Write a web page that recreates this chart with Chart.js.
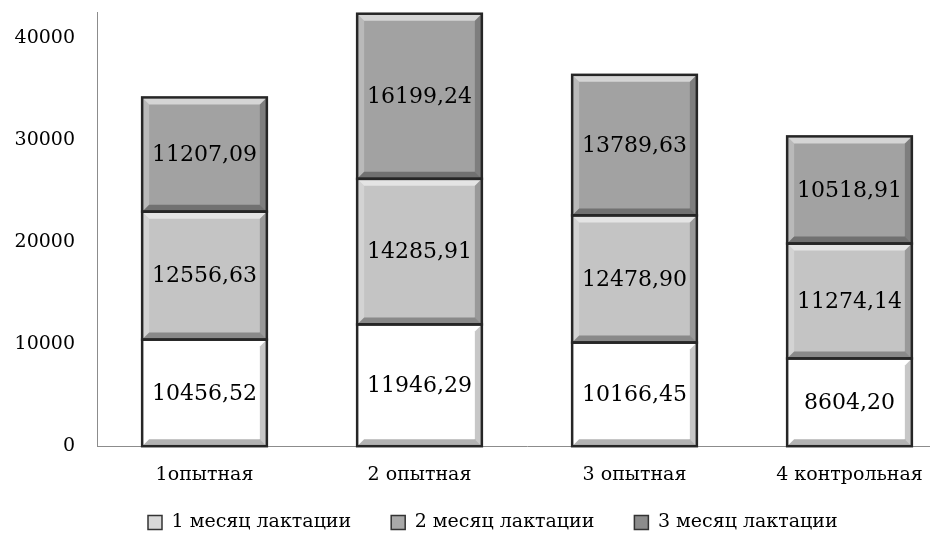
<!DOCTYPE html>
<html>
<head>
<meta charset="utf-8">
<script src="https://cdn.jsdelivr.net/npm/chart.js@4"></script>
<style>
body{margin:0;overflow:hidden;background:#fff}
#box{width:982px;height:533px}
</style>
</head>
<body>
<div id="box"><canvas id="lactChart"></canvas></div>
<script>
// data
const groups = ['1опытная', '2 опытная', '3 опытная', '4 контрольная'];
const month1 = [10456.52, 11946.29, 10166.45, 8604.20];
const month2 = [12556.63, 14285.91, 12478.90, 11274.14];
const month3 = [11207.09, 16199.24, 13789.63, 10518.91];
const seriesNames = ['1 месяц лактации', '2 месяц лактации', '3 месяц лактации'];
const yTicks = [0, 10000, 20000, 30000, 40000];

const barColors = ['#ffffff', '#c4c4c4', '#a2a2a2'];
const legendColors = ['#d8d8d8', '#a9a9a9', '#8c8c8c'];
const serif = '"DejaVu Serif", "Liberation Serif", serif';

function fmt(v) {
    return v.toFixed(2).replace('.', ',');
}

// bevel look + border + value labels on every segment
const bevelPlugin = {
    id: 'bevel',
    afterLayout(chart) {
        // nudge the legend row to where it sits in the picture
        chart.legend.left = 108;
        chart.legend.top = 473;
    },
    afterDatasetsDraw(chart) {
        const ctx = chart.ctx;
        const poly = (pts, col) => {
            ctx.beginPath();
            ctx.moveTo(pts[0][0], pts[0][1]);
            for (let k = 1; k < pts.length; k++) ctx.lineTo(pts[k][0], pts[k][1]);
            ctx.closePath();
            ctx.fillStyle = col;
            ctx.fill();
        };
        ctx.save();
        chart.data.datasets.forEach((ds, i) => {
            const meta = chart.getDatasetMeta(i);
            meta.data.forEach((bar, j) => {
                const p = bar.getProps(['x', 'y', 'base', 'width'], true);
                const l = p.x - p.width / 2, r = p.x + p.width / 2;
                const t = Math.min(p.y, p.base), b = Math.max(p.y, p.base);
                const e = 7;
                poly([[l, t], [r, t], [r - e, t + e], [l + e, t + e]], 'rgba(255,255,255,0.55)');
                poly([[l, t], [l + e, t + e], [l + e, b - e], [l, b]], 'rgba(255,255,255,0.25)');
                poly([[r, t], [r, b], [r - e, b - e], [r - e, t + e]], 'rgba(0,0,0,0.22)');
                poly([[l, b], [r, b], [r - e, b - e], [l + e, b - e]], 'rgba(0,0,0,0.3)');
                ctx.strokeStyle = '#262626';
                ctx.lineWidth = 2.5;
                ctx.strokeRect(l, t, r - l, b - t);
                ctx.fillStyle = '#000';
                ctx.font = '22px ' + serif;
                ctx.textAlign = 'center';
                ctx.textBaseline = 'middle';
                ctx.fillText(fmt(ds.data[j]), p.x, (t + b) / 2 + 1);
            });
        });
        ctx.restore();
    }
};

const monthData = [month1, month2, month3];

new Chart(document.getElementById('lactChart'), {
    type: 'bar',
    data: {
        labels: groups,
        datasets: monthData.map((arr, i) => ({
            label: seriesNames[i],
            data: arr,
            backgroundColor: barColors[i],
            borderWidth: 0,
            categoryPercentage: 1,
            barPercentage: 0.58
        }))
    },
    options: {
        responsive: true,
        maintainAspectRatio: false,
        animation: false,
        layout: {padding: {top: 12, right: 25, left: 0, bottom: 0}},
        scales: {
            x: {
                stacked: true,
                grid: {display: false},
                border: {display: true, color: '#8c8c8c', width: 1},
                ticks: {color: '#000', font: {family: serif, size: 19}, padding: 9, maxRotation: 0}
            },
            y: {
                stacked: true,
                min: 0,
                max: 42600,
                grid: {display: false},
                border: {display: true, color: '#8c8c8c', width: 1},
                afterBuildTicks(s) { s.ticks = yTicks.map(v => ({value: v})); },
                ticks: {
                    color: '#000', font: {family: serif, size: 19}, padding: 14,
                    callback: v => String(v)
                },
                afterFit(s) {
                    s.width = 97;
                    s.paddingTop = 0;
                    s.paddingBottom = 0;
                }
            }
        },
        plugins: {
            tooltip: {enabled: false},
            legend: {
                position: 'bottom',
                align: 'start',
                fullSize: false,
                maxHeight: 38,
                labels: {
                    color: '#000',
                    font: {family: serif, size: 19},
                    boxWidth: 14,
                    boxHeight: 14,
                    padding: 40,
                    generateLabels(chart) {
                        return seriesNames.map((name, i) => ({
                            text: name,
                            fillStyle: legendColors[i],
                            strokeStyle: '#333',
                            lineWidth: 1.5,
                            fontColor: '#000',
                            datasetIndex: i,
                            hidden: false
                        }));
                    }
                }
            }
        }
    },
    plugins: [bevelPlugin]
});
</script>
</body>
</html>
